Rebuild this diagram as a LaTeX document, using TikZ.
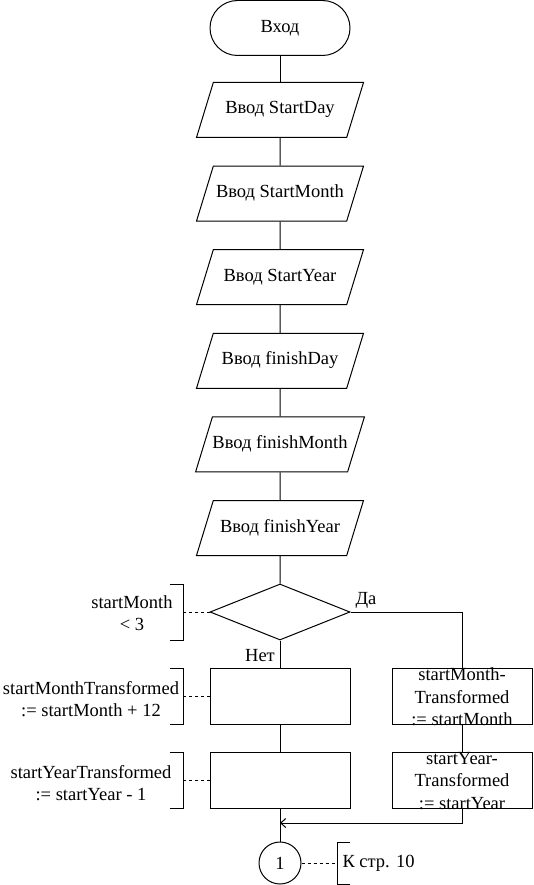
\documentclass[tikz,border=0pt]{standalone}
\usepackage{fontspec}
\setmainfont{Liberation Serif}
\usetikzlibrary{arrows.meta, shapes.geometric}
\newcommand{\chartfont}{\fontsize{18.5}{22.5}\selectfont}
\tikzset{
  blk/.style={draw, line width=1pt, inner sep=0pt, font=\chartfont, align=center},
  term/.style={blk, rectangle, rounded corners=27.5pt, minimum width=140pt, minimum height=55pt},
  inout/.style={blk, trapezium, trapezium left angle=73, trapezium right angle=107, trapezium stretches body, text height=12.5pt, text depth=4.5pt, inner ysep=19pt, minimum width=167pt, minimum height=55pt},
  decide/.style={blk, diamond, minimum width=140pt, minimum height=56pt},
  proc/.style={blk, rectangle, minimum width=140pt, minimum height=56pt},
  conn/.style={blk, circle, minimum size=42pt},
  txt/.style={font=\chartfont, align=center, inner sep=0pt},
  note/.style={line width=1pt, dash pattern=on 3pt off 3pt}
}

\begin{document}
\begin{tikzpicture}[x=1pt, y=-1pt, line width=1pt]
\useasboundingbox (0,0) rectangle (533,885);

\node[term] (start) at (280, 28) {Вход};
\node[inout] (in1) at (280, 110) {Ввод StartDay};
\node[inout] (in2) at (280, 193.6) {Ввод StartMonth};
\node[inout] (in3) at (280, 277.2) {Ввод StartYear};
\node[inout] (in4) at (280, 360.8) {Ввод finishDay};
\node[inout] (in5) at (280, 444.4) {Ввод finishMonth};
\node[inout] (in6) at (280, 528) {Ввод finishYear};
\node[decide] (dec) at (280, 612) {};
\node[proc] (monL) at (280, 696) {};
\node[proc] (yearL) at (280, 780) {};
\node[proc] (monR) at (462, 696) {};
\node[proc] (yearR) at (462, 780) {};
\node[txt] (monRtxt) at (462, 697) {startMonth-\\Transformed\\:= startMonth};
\node[txt] (yearRtxt) at (462, 781) {startYear-\\Transformed\\:= startYear};
\node[conn] (page) at (280, 863) {1};

\draw (start) -- (in1);
\foreach \a/\b in {in1/in2, in2/in3, in3/in4, in4/in5, in5/in6, in6/dec}
  \draw (\a) -- (\b);
\draw (dec) -- (monL);
\draw (monL) -- (yearL);
\draw (yearL) -- (page);
\draw (dec.east) -| (monR.north);
\draw (monR) -- (yearR);
\coordinate (merge) at (280, 823);
\draw[-{Straight Barb[length=5pt, width=9pt]}] (yearR.south) |- (merge);

\node[txt] (yes) at (366, 600) {Да};
\node[txt] (no) at (260, 656) {Нет};

\node[txt] (decnote) at (132, 613) {startMonth\\< 3};
\coordinate (decbr) at (183, 612);
\draw (170, 584) -- (183, 584) -- (183, 640) -- (170, 640);
\draw[note] (decbr) -- (dec.west);

\node[txt] (monnote) at (91, 699) {startMonthTransformed\\:= startMonth + 12};
\coordinate (monbr) at (183, 696);
\draw (170, 668) -- (183, 668) -- (183, 724) -- (170, 724);
\draw[note] (monbr) -- (monL.west);

\node[txt] (yearnote) at (91, 783) {startYearTransformed\\:= startYear - 1};
\coordinate (yearbr) at (183, 780);
\draw (170, 752) -- (183, 752) -- (183, 808) -- (170, 808);
\draw[note] (yearbr) -- (yearL.west);

\node[txt, anchor=west] (pagenote) at (342, 863) {К стр. 10};
\coordinate (pagebr) at (337, 863);
\draw (350, 842) -- (337, 842) -- (337, 884) -- (350, 884);
\draw[note] (page.east) -- (pagebr);
\end{tikzpicture}
\end{document}
